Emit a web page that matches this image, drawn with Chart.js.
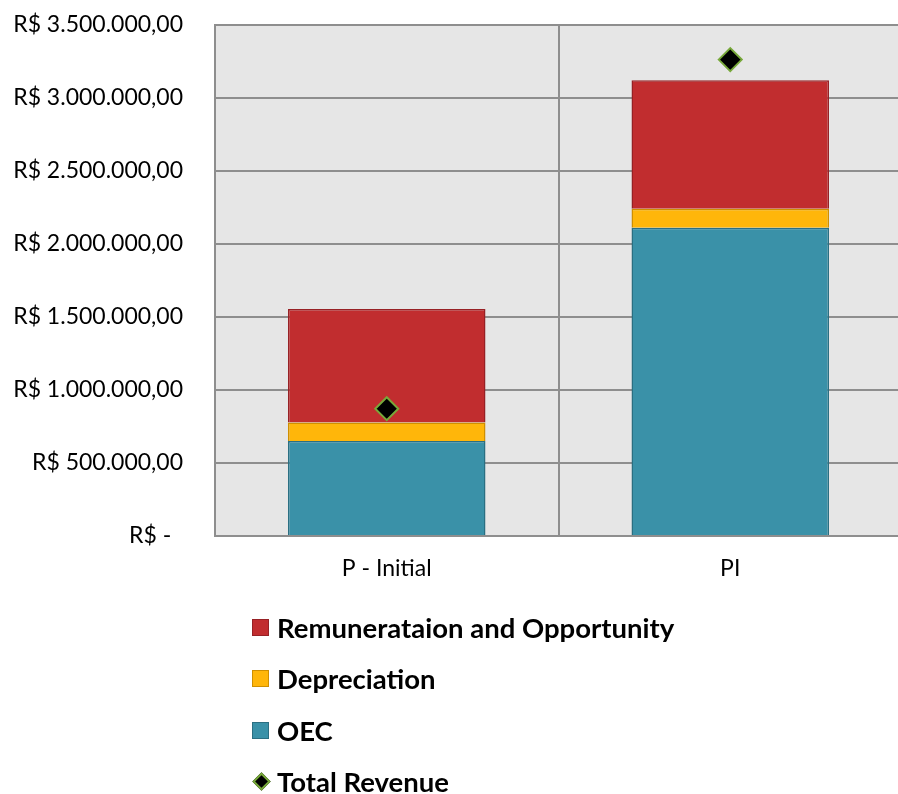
<!DOCTYPE html>
<html>
<head>
<meta charset="utf-8">
<script src="https://cdn.jsdelivr.net/npm/chart.js@4"></script>
<style>
  html, body { margin: 0; padding: 0; background: #fff; overflow: hidden; }
  #wrap { position: relative; width: 898px; height: 794px; overflow: hidden; }
  #c { position: absolute; left: 0; top: 0; }
  #legend { position: absolute; left: 252px; top: 602px; font-family: Lato, "Open Sans", sans-serif; font-weight: bold; font-size: 27.5px; color: #000; }
  .row { height: 51.3px; display: flex; align-items: center; white-space: nowrap; }
  .mk { width: 15px; height: 15px; margin-right: 8px; flex: none; }
  .dm { width: 9px; height: 9px; transform: rotate(45deg); margin: 0 9px 0 3px; flex: none; }
</style>
</head>
<body>
<div id="wrap">
  <canvas id="c" width="902" height="794"></canvas>
  <div id="legend"></div>
</div>
<script>
const categories = ["P - Initial", "PI"];
const oec = [651000, 2112000];
const depreciation = [126000, 130000];
const remuneration = [778000, 879000];
const totalRevenue = [872000, 3263000];
const yTickLabels = ["R$ -  ", "R$ 500.000,00", "R$ 1.000.000,00", "R$ 1.500.000,00", "R$ 2.000.000,00", "R$ 2.500.000,00", "R$ 3.000.000,00", "R$ 3.500.000,00"];

const gridColor = "#8e8e8e";
const plotBg = {
  id: "plotBg",
  beforeDraw(chart) {
    const { ctx, chartArea: a } = chart;
    ctx.save();
    ctx.fillStyle = "#e6e6e6";
    ctx.fillRect(a.left, a.top, a.right - a.left, a.bottom - a.top);
    ctx.restore();
  }
};

const chart = new Chart(document.getElementById("c"), {
  data: {
    labels: categories,
    datasets: [
      { type: "bar", label: "OEC", data: oec, backgroundColor: "#3a91a8", borderColor: "#2b6f82", borderWidth: 1.5, order: 0, categoryPercentage: 1, barPercentage: 0.575 },
      { type: "bar", label: "Depreciation", data: depreciation, backgroundColor: "#ffb60a", borderColor: "#cf8f00", borderWidth: 1.5, order: 0, categoryPercentage: 1, barPercentage: 0.575 },
      { type: "bar", label: "Remunerataion and Opportunity", data: remuneration, backgroundColor: "#c12d2f", borderColor: "#972125", borderWidth: 1.5, order: 0, categoryPercentage: 1, barPercentage: 0.575 },
      { type: "line", label: "Total Revenue", data: totalRevenue, showLine: false, pointStyle: "rectRot", pointRadius: 11.5, pointHoverRadius: 11.5, pointBackgroundColor: "#000", pointBorderColor: "#77a83a", pointBorderWidth: 2, order: -1 }
    ]
  },
  options: {
    responsive: false,
    animation: false,
    layout: { autoPadding: false, padding: { left: 0, top: 25, right: 0, bottom: 198 } },
    plugins: { legend: { display: false }, tooltip: { enabled: false } },
    scales: {
      x: {
        stacked: true,
        grid: { color: gridColor, lineWidth: 2, drawTicks: true, tickLength: 19, tickColor: "rgba(0,0,0,0)", offset: true },
        border: { color: gridColor, width: 2 },
        ticks: { color: "#000", font: { family: "Lato", size: 23 }, padding: 0 },
        afterFit(s) { s.height = 60; }
      },
      y: {
        stacked: true,
        min: 0, max: 3500000,
        grid: { color: gridColor, lineWidth: 2, drawTicks: true, tickLength: 32, tickColor: "rgba(0,0,0,0)" },
        border: { color: gridColor, width: 2 },
        ticks: {
          stepSize: 500000, color: "#000", font: { family: "Lato", size: 23 }, padding: 0,
          callback: (v, i) => yTickLabels[i]
        },
        afterFit(s) { s.width = 215; }
      }
    }
  },
  plugins: [plotBg]
});

// HTML legend in reference order
const legendOrder = [2, 1, 0, 3];
const leg = document.getElementById("legend");
legendOrder.forEach(i => {
  const ds = chart.data.datasets[i];
  const row = document.createElement("div");
  row.className = "row";
  const mk = document.createElement("span");
  if (ds.type === "line") {
    mk.className = "dm";
    mk.style.background = ds.pointBackgroundColor;
    mk.style.border = "2px solid " + ds.pointBorderColor;
  } else {
    mk.className = "mk";
    mk.style.background = ds.backgroundColor;
    mk.style.border = "1px solid " + ds.borderColor;
  }
  const tx = document.createElement("span");
  tx.textContent = ds.label;
  row.appendChild(mk);
  row.appendChild(tx);
  leg.appendChild(row);
});
</script>
</body>
</html>
